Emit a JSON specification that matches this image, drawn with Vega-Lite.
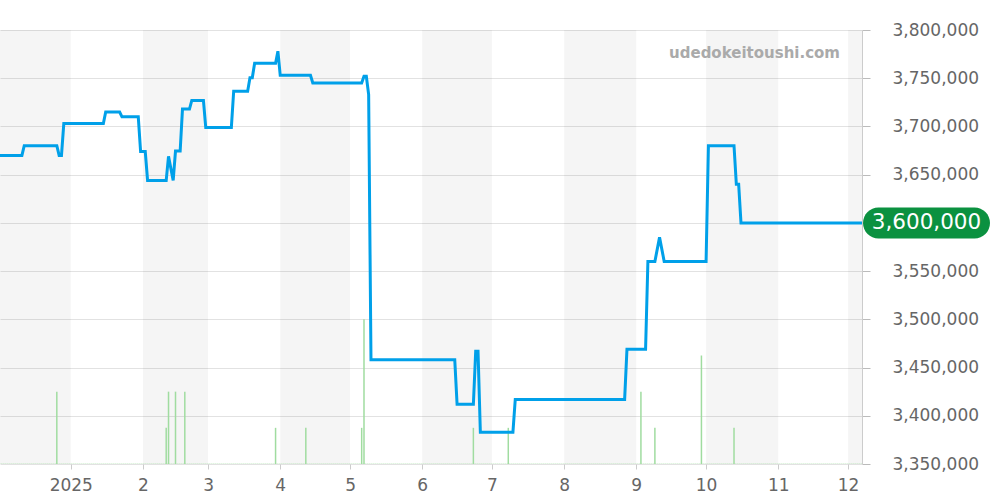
{
  "$schema": "https://vega.github.io/schema/vega-lite/v6.json",
  "width": 862,
  "height": 434,
  "autosize": {"type": "none"},
  "padding": {"left": 0, "top": 30, "right": 138, "bottom": 36},
  "background": "#ffffff",
  "config": {"view": {"stroke": null}, "font": "DejaVu Sans"},
  "title": {
    "text": "udedokeitoushi.com",
    "anchor": "end",
    "orient": "top",
    "frame": "group",
    "offset": -47,
    "dx": -22,
    "baseline": "middle",
    "fontSize": 15,
    "fontWeight": "bold",
    "color": "#aaaaaa",
    "font": "DejaVu Sans"
  },
  "datasets": {
    "bands": [
      {"date": "2024-12-01", "end": "2025-01-01"},
      {"date": "2025-02-01", "end": "2025-03-01"},
      {"date": "2025-04-01", "end": "2025-05-01"},
      {"date": "2025-06-01", "end": "2025-07-01"},
      {"date": "2025-08-01", "end": "2025-09-01"},
      {"date": "2025-10-01", "end": "2025-11-01"},
      {"date": "2025-12-01", "end": "2026-01-01"}
    ],
    "baseline": [
      {"date": "2024-12-01", "end": "2025-12-07", "vol": 0}
    ],
    "volume": [
      {"date": "2024-12-26", "vol": 2},
      {"date": "2025-02-11", "vol": 1},
      {"date": "2025-02-12", "vol": 2},
      {"date": "2025-02-15", "vol": 2},
      {"date": "2025-02-19", "vol": 2},
      {"date": "2025-03-30", "vol": 1},
      {"date": "2025-04-12", "vol": 1},
      {"date": "2025-05-06", "vol": 1},
      {"date": "2025-05-07", "vol": 4},
      {"date": "2025-06-23", "vol": 1},
      {"date": "2025-07-08", "vol": 1},
      {"date": "2025-09-03", "vol": 2},
      {"date": "2025-09-09", "vol": 1},
      {"date": "2025-09-29", "vol": 3},
      {"date": "2025-10-13", "vol": 1}
    ],
    "last": [
      {"date": "2025-12-07", "price": 3600000}
    ],
    "price": [
      {"date": "2024-12-01", "price": 3670000},
      {"date": "2024-12-11", "price": 3670000},
      {"date": "2024-12-12", "price": 3680000},
      {"date": "2024-12-26", "price": 3680000},
      {"date": "2024-12-27", "price": 3670000},
      {"date": "2024-12-28", "price": 3670000},
      {"date": "2024-12-29", "price": 3703000},
      {"date": "2025-01-15", "price": 3703000},
      {"date": "2025-01-16", "price": 3715000},
      {"date": "2025-01-22", "price": 3715000},
      {"date": "2025-01-23", "price": 3710000},
      {"date": "2025-01-30", "price": 3710000},
      {"date": "2025-01-31", "price": 3674000},
      {"date": "2025-02-02", "price": 3674000},
      {"date": "2025-02-03", "price": 3644000},
      {"date": "2025-02-11", "price": 3644000},
      {"date": "2025-02-12", "price": 3669000},
      {"date": "2025-02-14", "price": 3644000},
      {"date": "2025-02-15", "price": 3674500},
      {"date": "2025-02-17", "price": 3674500},
      {"date": "2025-02-18", "price": 3718000},
      {"date": "2025-02-21", "price": 3718000},
      {"date": "2025-02-22", "price": 3727000},
      {"date": "2025-02-27", "price": 3727000},
      {"date": "2025-02-28", "price": 3699000},
      {"date": "2025-03-11", "price": 3699000},
      {"date": "2025-03-12", "price": 3736500},
      {"date": "2025-03-18", "price": 3736500},
      {"date": "2025-03-19", "price": 3750600},
      {"date": "2025-03-20", "price": 3750600},
      {"date": "2025-03-21", "price": 3765500},
      {"date": "2025-03-30", "price": 3765500},
      {"date": "2025-03-31", "price": 3778000},
      {"date": "2025-04-01", "price": 3753000},
      {"date": "2025-04-14", "price": 3753000},
      {"date": "2025-04-15", "price": 3745000},
      {"date": "2025-05-06", "price": 3745000},
      {"date": "2025-05-07", "price": 3752000},
      {"date": "2025-05-08", "price": 3752000},
      {"date": "2025-05-09", "price": 3733000},
      {"date": "2025-05-10", "price": 3458000},
      {"date": "2025-06-15", "price": 3458000},
      {"date": "2025-06-16", "price": 3412000},
      {"date": "2025-06-23", "price": 3412000},
      {"date": "2025-06-24", "price": 3467000},
      {"date": "2025-06-25", "price": 3467000},
      {"date": "2025-06-26", "price": 3383000},
      {"date": "2025-07-10", "price": 3383000},
      {"date": "2025-07-11", "price": 3417000},
      {"date": "2025-08-27", "price": 3417000},
      {"date": "2025-08-28", "price": 3469000},
      {"date": "2025-09-05", "price": 3469000},
      {"date": "2025-09-06", "price": 3560000},
      {"date": "2025-09-09", "price": 3560000},
      {"date": "2025-09-11", "price": 3585000},
      {"date": "2025-09-13", "price": 3560000},
      {"date": "2025-10-01", "price": 3560000},
      {"date": "2025-10-02", "price": 3680000},
      {"date": "2025-10-13", "price": 3680000},
      {"date": "2025-10-14", "price": 3640000},
      {"date": "2025-10-15", "price": 3640000},
      {"date": "2025-10-16", "price": 3600000},
      {"date": "2025-12-07", "price": 3600000}
    ]
  },
  "encoding": {
    "x": {
      "field": "date",
      "type": "temporal",
      "scale": {
        "type": "utc",
        "domain": [
          {"year": 2024, "month": 12, "date": 1, "hours": 14, "utc": true},
          {"year": 2025, "month": 12, "date": 7, "utc": true}
        ]
      },
      "axis": {
        "title": null,
        "grid": false,
        "domain": false,
        "values": [
          {"year": 2025, "month": 1, "date": 1, "utc": true},
          {"year": 2025, "month": 2, "date": 1, "utc": true},
          {"year": 2025, "month": 3, "date": 1, "utc": true},
          {"year": 2025, "month": 4, "date": 1, "utc": true},
          {"year": 2025, "month": 5, "date": 1, "utc": true},
          {"year": 2025, "month": 6, "date": 1, "utc": true},
          {"year": 2025, "month": 7, "date": 1, "utc": true},
          {"year": 2025, "month": 8, "date": 1, "utc": true},
          {"year": 2025, "month": 9, "date": 1, "utc": true},
          {"year": 2025, "month": 10, "date": 1, "utc": true},
          {"year": 2025, "month": 11, "date": 1, "utc": true},
          {"year": 2025, "month": 12, "date": 1, "utc": true}
        ],
        "labelExpr": "utcmonth(datum.value) === 0 ? '' + utcyear(datum.value) : '' + (utcmonth(datum.value) + 1)",
        "tickSize": 5,
        "tickColor": "#cccccc",
        "labelPadding": 8,
        "labelFontSize": 17,
        "labelColor": "#666666",
        "labelFont": "DejaVu Sans"
      }
    }
  },
  "layer": [
    {
      "data": {"name": "bands"},
      "mark": {"type": "rect", "fill": "#000000", "opacity": 0.04, "clip": true},
      "encoding": {"x2": {"field": "end"}}
    },
    {
      "layer": [
        {
          "data": {"name": "baseline"},
          "mark": {"type": "rule", "color": "#a0dca0", "strokeDash": [1, 1], "strokeWidth": 1, "clip": true},
          "encoding": {"x2": {"field": "end"}, "y": {"field": "vol", "type": "quantitative"}}
        },
        {
          "data": {"name": "volume"},
          "mark": {"type": "rule", "color": "#a0dca0", "strokeWidth": 1.5},
          "encoding": {
            "y": {"field": "vol", "type": "quantitative"},
            "y2": {"datum": 0}
          }
        }
      ],
      "encoding": {
        "y": {"field": "vol", "type": "quantitative", "scale": {"domain": [0, 12], "nice": false, "zero": true}, "axis": null}
      }
    },
    {
      "layer": [
        {
          "data": {"name": "price"},
          "mark": {"type": "line", "color": "#00a0e9", "strokeWidth": 3, "clip": true}
        },
        {
          "data": {"name": "last"},
          "mark": {"type": "rect", "color": "#0b9140", "cornerRadius": 15.5, "xOffset": 1, "x2Offset": 128, "yOffset": -15.5, "y2Offset": 15.5},
          "encoding": {
            "x2": {"field": "date"},
            "y2": {"field": "price"}
          }
        },
        {
          "data": {"name": "last"},
          "mark": {"type": "text", "color": "#ffffff", "fontSize": 21.5, "align": "center", "baseline": "middle", "dx": 64.5, "font": "DejaVu Sans"},
          "encoding": {
            "text": {"field": "price", "type": "quantitative", "format": ","}
          }
        }
      ],
      "encoding": {
        "y": {
          "field": "price",
          "type": "quantitative",
          "scale": {"domain": [3350000, 3800000], "nice": false, "zero": false},
          "axis": {
            "orient": "right",
            "title": null,
            "values": [3350000, 3400000, 3450000, 3500000, 3550000, 3600000, 3650000, 3700000, 3750000, 3800000],
            "labelExpr": "datum.value == 3600000 ? '' : format(datum.value, ',')",
            "grid": true,
            "gridColor": "#e2e2e2",
            "domainColor": "#cccccc",
            "tickColor": "#bbbbbb",
            "tickSize": 8,
            "labelPadding": 22,
            "labelFontSize": 17,
            "labelColor": "#666666",
            "labelFont": "DejaVu Sans"
          }
        }
      }
    }
  ],
  "resolve": {"scale": {"y": "independent"}, "axis": {"y": "independent"}}
}
